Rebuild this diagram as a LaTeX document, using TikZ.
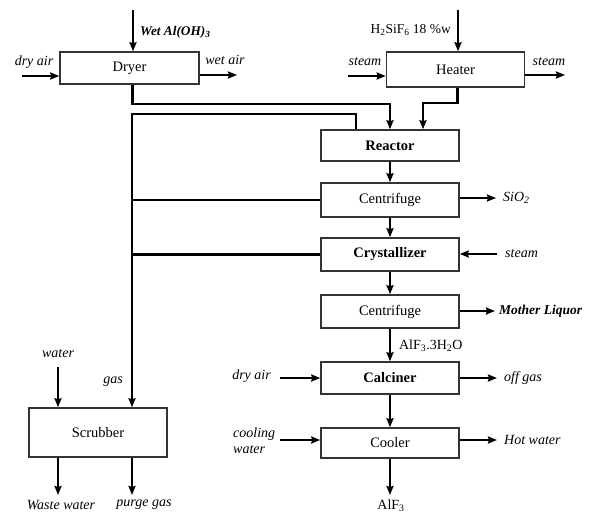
\documentclass[tikz,border=0pt]{standalone}
\usepackage{fontspec}
\setmainfont{Liberation Serif}
\usetikzlibrary{arrows.meta,positioning}

\tikzset{
  unit/.style={rectangle,draw=black!80,line width=1.5pt,fill=white,minimum width=138pt,minimum height=32pt,inner sep=0pt,font=\fontsize{14.5}{16}\selectfont},
  bunit/.style={unit,font=\fontsize{14.5}{16}\selectfont\bfseries},
  flow/.style={line width=2.2pt,-{Stealth[length=9pt,width=7pt,inset=1pt]}},
  pipe/.style={line width=2.2pt},
  lbl/.style={font=\fontsize{14}{16}\selectfont\itshape,inner sep=1pt},
}

\begin{document}
\begin{tikzpicture}[x=1pt,y=-1pt]
  \useasboundingbox[fill=white] (0,0) rectangle (592,515);

  % process units
  \node[unit,minimum width=139pt] (dryer) at (129.5,68) {Dryer};
  \node[unit,minimum height=35pt] (heater) at (455.5,69.5) {Heater};
  \node[bunit,minimum height=31pt] (reactor) at (390,145.5) {Reactor};
  \node[unit,minimum height=34pt] (cent1) at (390,200) {Centrifuge};
  \node[bunit,minimum height=33pt] (cryst) at (390,254.5) {Crystallizer};
  \node[unit,minimum height=33pt] (cent2) at (390,311.5) {Centrifuge};
  \node[bunit] (calciner) at (390,378) {Calciner};
  \node[unit,minimum height=30pt] (cooler) at (390,443) {Cooler};
  \node[unit,minimum height=49pt] (scrubber) at (98,432.5) {Scrubber};

  % main line
  \draw[flow] (reactor) -- (cent1);
  \draw[flow] (cent1) -- (cryst);
  \draw[flow] (cryst) -- (cent2);
  \draw[flow] (cent2) -- node[font=\fontsize{14}{16}\selectfont,anchor=west,inner sep=1pt,xshift=7pt,yshift=-1pt] (hydlbl) {AlF\textsubscript{3}.3H\textsubscript{2}O} (calciner);
  \draw[flow] (calciner) -- (cooler);

  % feeds to the reactor
  \draw[flow] ([xshift=3pt]dryer.south) -- ++(0,19) -| (reactor.north);
  \draw[flow] ([xshift=2pt]heater.south) -- ++(0,15) -| ([xshift=33pt]reactor.north);

  % gas collection to scrubber
  \coordinate (gasline) at ([xshift=34pt]scrubber.north);
  \draw[flow] ([xshift=-34pt]reactor.north) -- ++(0,-15) -| (gasline);
  \draw[pipe] (cent1.west) -- (cent1.west -| gasline);
  \draw[pipe] (cryst.west) -- (cryst.west -| gasline);
  \node[lbl] (gaslbl) at (113,382) {gas};

  % dryer streams
  \coordinate (wetin) at (133,10);
  \draw[flow] (wetin) -- (wetin |- dryer.north);
  \node[lbl,font=\fontsize{13.3}{16}\selectfont\bfseries\itshape,anchor=west] (wetlbl) at (139,32) {Wet Al(OH)\textsubscript{3}};
  \coordinate (dryairin) at (22,76);
  \draw[flow] (dryairin) -- (dryairin -| dryer.west);
  \node[lbl] (dryairlbl) at (34,62) {dry air};
  \coordinate (wetairout) at (237,75);
  \draw[flow] (wetairout -| dryer.east) -- (wetairout);
  \node[lbl] (wetairlbl) at (225,60) {wet air};

  % heater streams
  \coordinate (acidin) at (458,10);
  \draw[flow] (acidin) -- (acidin |- heater.north);
  \node[font=\fontsize{13.5}{16}\selectfont,anchor=east,inner sep=1pt] (acidlbl) at (452,30) {H\textsubscript{2}SiF\textsubscript{6} 18 \%w};
  \coordinate (steamin) at (348,76);
  \draw[flow] (steamin) -- (steamin -| heater.west);
  \node[lbl] (steaminlbl) at (365,62) {steam};
  \coordinate (steamout) at (565,75);
  \draw[flow] (steamout -| heater.east) -- (steamout);
  \node[lbl] (steamoutlbl) at (549,62) {steam};

  % side streams of the main line
  \coordinate (sio2out) at (496,198);
  \draw[flow] (sio2out -| cent1.east) -- (sio2out);
  \node[lbl,anchor=west] (sio2lbl) at (502,198) {SiO\textsubscript{2}};
  \coordinate (crsteam) at (497,254);
  \draw[flow] (crsteam) -- (crsteam -| cryst.east);
  \node[lbl,anchor=west] (crsteamlbl) at (504,254) {steam};
  \coordinate (liqout) at (495,311);
  \draw[flow] (liqout -| cent2.east) -- (liqout);
  \node[lbl,font=\fontsize{13.5}{16}\selectfont\bfseries\itshape,anchor=west] (liqlbl) at (498,311) {Mother Liquor};

  % calciner and cooler streams
  \coordinate (caair) at (280,378);
  \draw[flow] (caair) -- (caair -| calciner.west);
  \node[lbl,anchor=east] (caairlbl) at (272,376) {dry air};
  \coordinate (offgas) at (497,378);
  \draw[flow] (offgas -| calciner.east) -- (offgas);
  \node[lbl,anchor=west] (offgaslbl) at (503,378) {off gas};
  \coordinate (cwin) at (280,440);
  \draw[flow] (cwin) -- (cwin -| cooler.west);
  \node[lbl,anchor=west,align=left] (cwlbl) at (232,441) {cooling\\water};
  \coordinate (hwout) at (497,440);
  \draw[flow] (hwout -| cooler.east) -- (hwout);
  \node[lbl,anchor=west] (hwlbl) at (503,440) {Hot water};
  \coordinate (product) at (390,495);
  \draw[flow] (cooler.south) -- (product);
  \node[font=\fontsize{14}{16}\selectfont] (prodlbl) at (391,506) {AlF\textsubscript{3}};

  % scrubber streams
  \node[lbl] (waterlbl) at (58,354) {water};
  \coordinate (waterin) at (58,367);
  \draw[flow] (waterin) -- (waterin |- scrubber.north);
  \coordinate (wasteout) at (58,495);
  \draw[flow] (wasteout |- scrubber.south) -- (wasteout);
  \node[lbl] (wastelbl) at (61,505) {Waste water};
  \coordinate (purgeout) at (132,495);
  \draw[flow] (purgeout |- scrubber.south) -- (purgeout);
  \node[lbl] (purgelbl) at (144,505) {purge gas};
\end{tikzpicture}
\end{document}
